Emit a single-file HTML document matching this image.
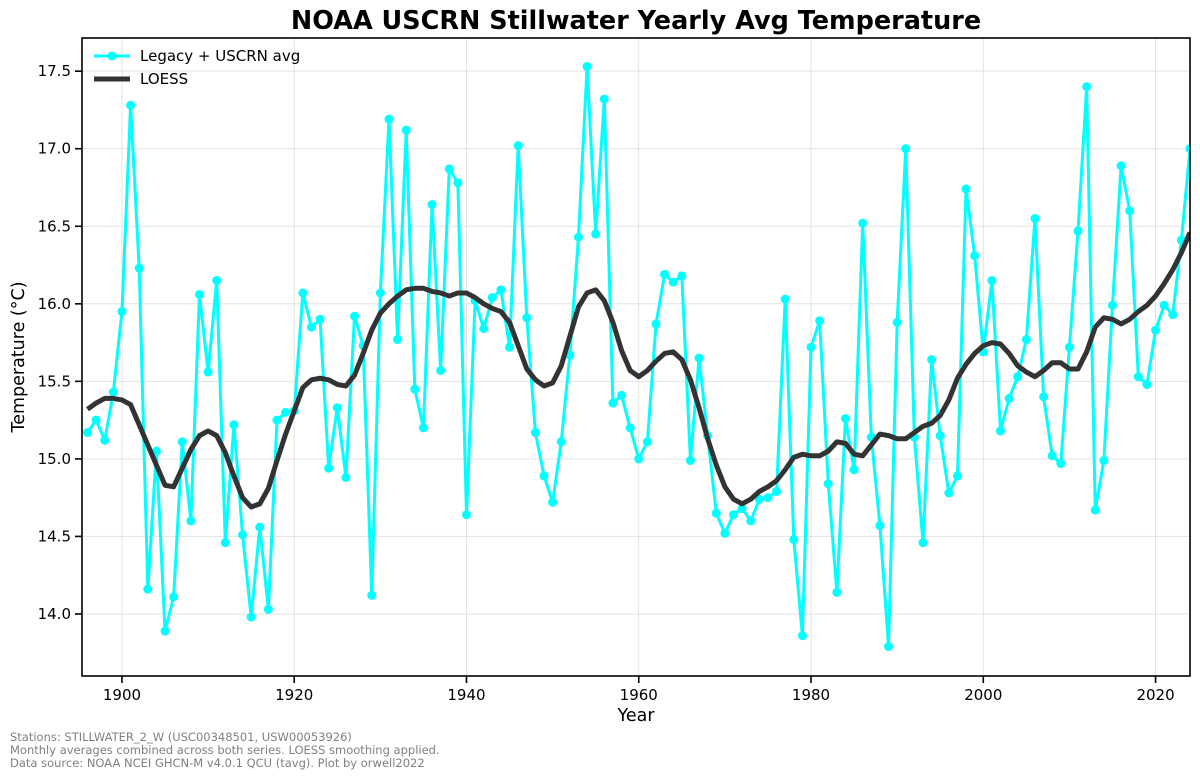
<!DOCTYPE html>
<html><head><meta charset="utf-8"><style>
html,body{margin:0;padding:0;background:#fff;}
svg{display:block;font-family:"DejaVu Sans","Liberation Sans",sans-serif;}
</style></head><body>
<svg id="chart" width="1200" height="780">
<text x="636" y="29" text-anchor="middle" font-size="25.5" font-weight="bold">NOAA USCRN Stillwater Yearly Avg Temperature</text>
<g id="grid"></g>
<g id="axes"></g>
<g id="series"></g>
<rect x="82" y="38" width="1108" height="638" fill="none" stroke="#000" stroke-width="1.6"/>
<text x="636" y="721" text-anchor="middle" font-size="17.5">Year</text>
<text transform="translate(24,357) rotate(-90)" text-anchor="middle" font-size="17.5">Temperature (°C)</text>
<g>
<g>
<line x1="94" y1="56" x2="130" y2="56" stroke="#00ffff" stroke-width="3"/><circle cx="112" cy="56" r="4.5" fill="#00ffff"/>
<text x="140" y="61" font-size="15">Legacy + USCRN avg</text></g>
<g>
<line x1="94" y1="79" x2="130" y2="79" stroke="#333" stroke-width="5"/>
<text x="140" y="84" font-size="15">LOESS</text></g>
</g>
<g fill="#808080" font-size="11.5">
<text x="10" y="741">Stations: STILLWATER_2_W (USC00348501, USW00053926)</text>
<text x="10" y="754">Monthly averages combined across both series. LOESS smoothing applied.</text>
<text x="10" y="767">Data source: NOAA NCEI GHCN-M v4.0.1 QCU (tavg). Plot by orwell2022</text>
</g>
</svg>
<script>
const startYear = 1896;
const temps = [15.17,15.25,15.12,15.43,15.95,17.28,16.23,14.16,15.05,13.89,14.11,15.11,14.60,16.06,15.56,16.15,14.46,15.22,14.51,13.98,14.56,14.03,15.25,15.30,15.31,16.07,15.85,15.90,14.94,15.33,14.88,15.92,15.73,14.12,
16.07,17.19,15.77,17.12,15.45,15.20,16.64,15.57,16.87,16.78,14.64,16.02,15.84,16.04,16.09,15.72,17.02,15.91,15.17,14.89,14.72,15.11,15.67,16.43,17.53,16.45,17.32,15.36,15.41,15.20,15.00,15.11,15.87,16.19,
16.14,16.18,14.99,15.65,15.15,14.65,14.52,14.64,14.68,14.60,14.74,14.75,14.79,16.03,14.48,13.86,15.72,15.89,14.84,14.14,15.26,14.93,16.52,15.14,14.57,13.79,15.88,17.00,15.14,14.46,15.64,15.15,
14.78,14.89,16.74,16.31,15.69,16.15,15.18,15.39,15.53,15.77,16.55,15.40,15.02,14.97,15.72,16.47,17.40,14.67,14.99,15.99,16.89,16.60,15.53,15.48,15.83,15.99,15.93,16.41,17.00];
const loess = [15.32,15.36,15.39,15.39,15.38,15.35,15.22,15.09,14.96,14.83,14.82,14.94,15.06,15.15,15.18,15.15,15.04,14.89,14.75,14.69,14.71,14.81,14.99,15.16,15.31,15.46,15.51,15.52,15.51,15.48,15.47,15.54,15.68,15.83,
15.94,16.00,16.05,16.09,16.10,16.10,16.08,16.07,16.05,16.07,16.07,16.04,16.00,15.97,15.95,15.88,15.73,15.58,15.51,15.47,15.49,15.60,15.79,15.98,16.07,16.09,16.02,15.88,15.70,15.57,15.53,15.57,15.63,15.68,
15.69,15.64,15.51,15.33,15.13,14.96,14.82,14.74,14.71,14.74,14.79,14.82,14.86,14.93,15.01,15.03,15.02,15.02,15.05,15.11,15.10,15.03,15.02,15.09,15.16,15.15,15.13,15.13,15.17,15.21,15.23,15.28,
15.38,15.52,15.61,15.68,15.73,15.75,15.74,15.68,15.60,15.56,15.53,15.57,15.62,15.62,15.58,15.58,15.69,15.85,15.91,15.90,15.87,15.90,15.95,15.99,16.05,16.13,16.22,16.33,16.46];
const xTicks = [1900,1920,1940,1960,1980,2000,2020];
const yTicks = [14.0,14.5,15.0,15.5,16.0,16.5,17.0,17.5];
const NS='http://www.w3.org/2000/svg';
const X0=82,X1=1190,Y0=676,Y1=38, xMin=1895.36,xMax=2024, yMin=13.6,yMax=17.714;
const xs=v=>X0+(v-xMin)/(xMax-xMin)*(X1-X0);
const ys=v=>Y0-(v-yMin)/(yMax-yMin)*(Y0-Y1);
function mk(t,a,p){const e=document.createElementNS(NS,t);for(const k in a)e.setAttribute(k,a[k]);p.appendChild(e);return e;}
const grid=document.getElementById('grid'),axes=document.getElementById('axes'),ser=document.getElementById('series');
xTicks.forEach(t=>{const x=xs(t);
 const g=mk('line',{x1:x,x2:x,y1:Y1,y2:Y0,stroke:'#e3e3e3','stroke-width':1},grid);
 
 
 const tk=mk('line',{x1:x,x2:x,y1:Y0,y2:Y0+7,stroke:'#000','stroke-width':1.6},axes);
 
 
 const l=mk('text',{x:x,y:Y0+24,'text-anchor':'middle','font-size':15},axes);l.textContent=t;
 
 });
yTicks.forEach(t=>{const y=ys(t);
 const g=mk('line',{x1:X0,x2:X1,y1:y,y2:y,stroke:'#e3e3e3','stroke-width':1},grid);
 
 
 const tk=mk('line',{x1:X0-7,x2:X0,y1:y,y2:y,stroke:'#000','stroke-width':1.6},axes);
 
 
 const l=mk('text',{x:X0-11,y:y+5,'text-anchor':'end','font-size':15},axes);l.textContent=t.toFixed(1);
 
 });
const cp=mk('clipPath',{id:'clip'},ser);mk('rect',{x:X0,y:Y1,width:X1-X0,height:Y0-Y1},cp);
const pts=temps.map((v,i)=>xs(startYear+i)+','+ys(v)).join(' ');
const tl=mk('polyline',{points:pts,fill:'none',stroke:'#00ffff','stroke-width':3,'stroke-linejoin':'round','clip-path':'url(#clip)'},ser);


temps.forEach((v,i)=>{const c=mk('circle',{cx:xs(startYear+i),cy:ys(v),r:4.5,fill:'#00ffff','clip-path':'url(#clip)'},ser);
 
 });
const lp=loess.map((v,i)=>xs(startYear+i)+','+ys(v)).join(' ');
const ll=mk('polyline',{points:lp,fill:'none',stroke:'#333','stroke-width':5,'stroke-linejoin':'round','clip-path':'url(#clip)'},ser);


</script>
</body></html>
